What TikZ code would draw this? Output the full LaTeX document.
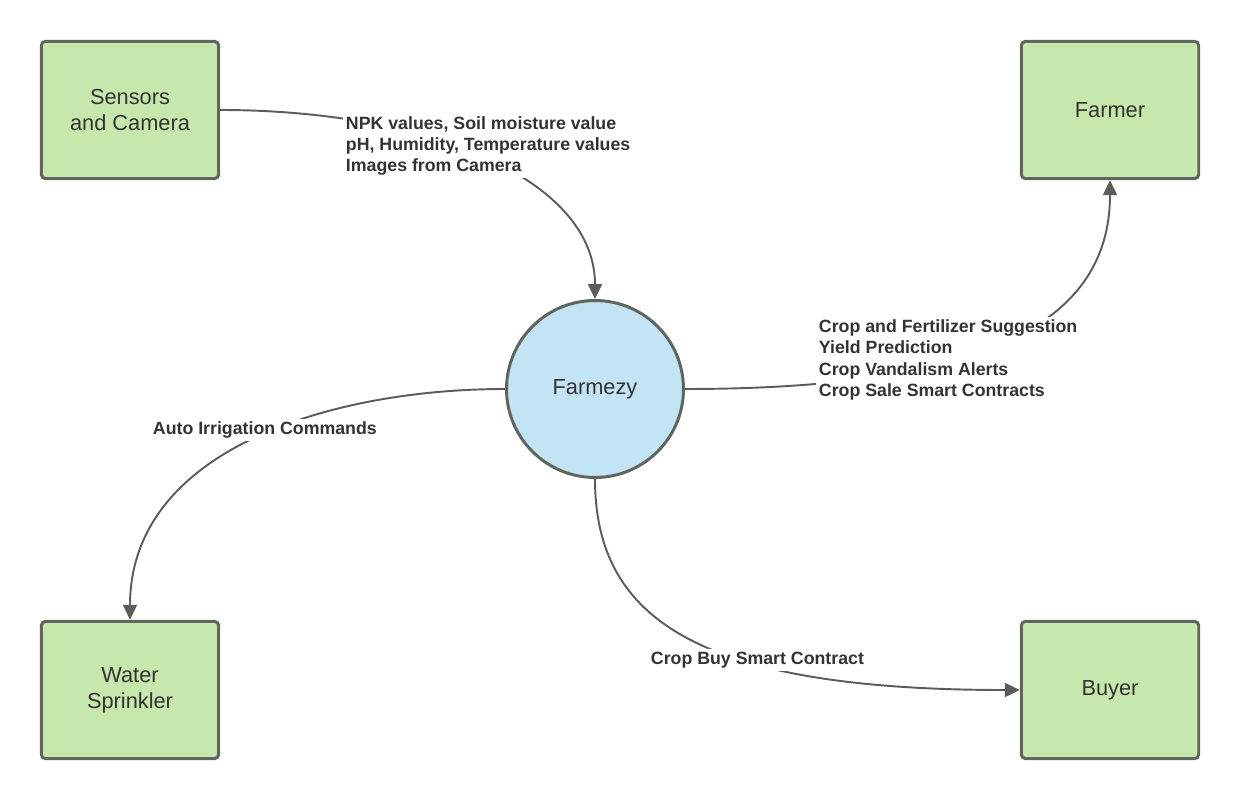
\documentclass[tikz,border=0pt]{standalone}
\usepackage{fontspec}
\setmainfont{Liberation Sans}
\usetikzlibrary{arrows.meta, shapes.geometric}
\definecolor{boxgreen}{HTML}{C7E8AC}
\definecolor{boxedge}{HTML}{5E665E}
\definecolor{hubblue}{HTML}{C2E4F4}
\definecolor{linegray}{HTML}{5C5C5C}
\definecolor{txtgray}{HTML}{333333}
\tikzset{
  entity/.style={draw=boxedge, fill=boxgreen, line width=1.7pt, rounded corners=2.5pt, minimum width=3.55cm, minimum height=2.75cm, align=center, text=txtgray, font=\fontsize{12.4}{14.7}\selectfont},
  hub/.style={circle, draw=boxedge, fill=hubblue, line width=1.7pt, minimum size=3.54cm, text=txtgray, font=\fontsize{12.4}{14.7}\selectfont},
  flow/.style={draw=linegray, line width=1.1pt, -{Triangle[length=8.5pt, width=8pt]}},
  flowlabel/.style={fill=white, inner sep=1.5pt, anchor=west, align=left, text=txtgray, font=\fontsize{10.1}{12.2}\selectfont\bfseries}
}
\begin{document}
\begin{tikzpicture}[x=0.02cm, y=-0.02cm]
\useasboundingbox (0,0) rectangle (1240,800);
\node [entity] (sensors) at (130,110) {Sensors\\and Camera};
\node [entity] (farmer) at (1110,110) {Farmer};
\node [entity] (sprinkler) at (130,690) {Water\\Sprinkler};
\node [entity] (buyer) at (1110,690) {Buyer};
\node [hub] (farmezy) at (595,389) {Farmezy};
\draw [flow] (sensors.east) .. controls (430,110) and (595,180) .. (farmezy.north);
\draw [flow] (farmezy.west) .. controls (330,389) and (130,450) .. (sprinkler.north);
\draw [flow] (farmezy.east) .. controls (970,389) and (1110,330) .. (farmer.south);
\draw [flow] (farmezy.south) .. controls (595,620) and (700,690) .. (buyer.west);
\node [flowlabel] (sensordata) at (343,146) {NPK values, Soil moisture value\\pH, Humidity, Temperature values\\Images from Camera};
\node [flowlabel] (irrigation) at (150,430) {Auto Irrigation Commands};
\node [flowlabel] (farmerinfo) at (816,360) {Crop and Fertilizer Suggestion\\Yield Prediction\\Crop Vandalism Alerts\\Crop Sale Smart Contracts};
\node [flowlabel] (buycontract) at (648,660) {Crop Buy Smart Contract};
\end{tikzpicture}
\end{document}
